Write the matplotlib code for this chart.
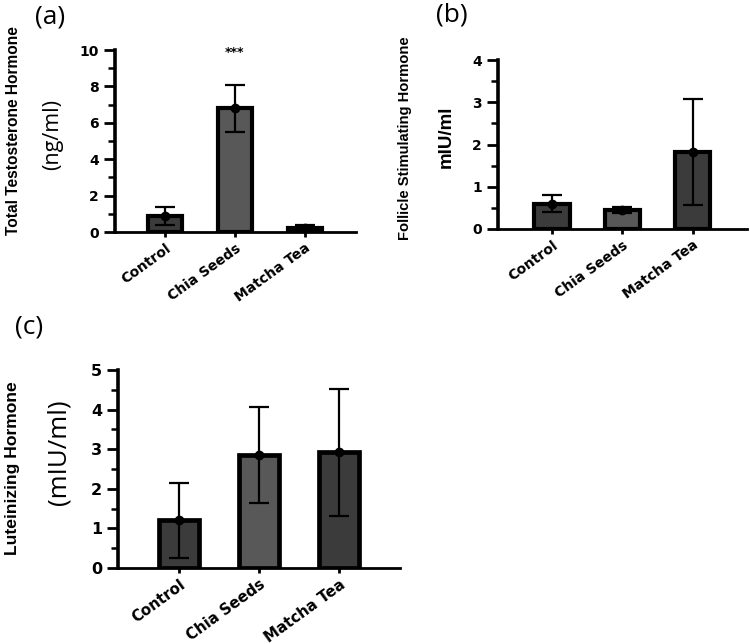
import matplotlib
matplotlib.use("Agg")
import matplotlib.pyplot as plt
from matplotlib.ticker import MultipleLocator

categories = ["Control", "Chia Seeds", "Matcha Tea"]

# (a) Total testosterone (ng/ml)
testo_mean = [0.9, 6.8, 0.2]
testo_err = [0.5, 1.3, 0.2]
# (b) FSH (mIU/ml)
fsh_mean = [0.6, 0.45, 1.82]
fsh_err = [0.2, 0.06, 1.25]
# (c) LH (mIU/ml)
lh_mean = [1.2, 2.85, 2.92]
lh_err = [0.95, 1.22, 1.6]

bar_colors = ["#3b3b3b", "#585858", "#3b3b3b"]

plt.rcParams['font.family'] = ['DejaVu Sans']

fig = plt.figure(figsize=(7.5, 6.44), dpi=100)
W, H = 750, 644

TICKFONT = ['DejaVu Sans']
LABELFONT = ['Liberation Sans Narrow', 'Liberation Sans', 'DejaVu Sans']
LIGHTFONT = ['Open Sans', 'DejaVu Sans']


def ax_at(l, r, t, b):
    return fig.add_axes([l / W, 1 - b / H, (r - l) / W, (b - t) / H])


def panel(ax, means, errs, ymax, major, minor, xlim, width, fs, yfs, lw):
    x = list(range(len(categories)))
    ax.bar(x, means, width=width, color=bar_colors, edgecolor="black",
           linewidth=lw, zorder=2)
    ax.errorbar(x, means, yerr=errs, fmt="o", color="black", ms=6,
                elinewidth=1.6, capsize=7, capthick=1.6, zorder=3)
    ax.set_xlim(*xlim)
    ax.set_ylim(0, ymax)
    ax.yaxis.set_major_locator(MultipleLocator(major))
    ax.yaxis.set_minor_locator(MultipleLocator(minor))
    ax.spines['top'].set_visible(False)
    ax.spines['right'].set_visible(False)
    ax.spines['left'].set_linewidth(2.6)
    ax.spines['bottom'].set_linewidth(2.0)
    ax.spines['left'].set_bounds(0, ymax)
    ax.tick_params(axis='y', which='major', length=8, width=2.0,
                   labelsize=yfs, pad=3.5)
    ax.tick_params(axis='y', which='minor', length=5, width=1.8)
    ax.tick_params(axis='x', length=3.5, width=2.0, labelsize=fs, pad=3)
    ax.set_xticks(x)
    ax.set_xticklabels(categories, rotation=36, ha='right',
                       rotation_mode='anchor', fontweight='bold',
                       family=TICKFONT)
    for lab in ax.get_yticklabels():
        lab.set_fontweight('bold')
        lab.set_family(TICKFONT)
    ax.set_facecolor('none')


# (a)
ax1 = ax_at(115, 356, 50, 232)
panel(ax1, testo_mean, testo_err, 10, 2, 1, (-0.714, 2.73), 0.49, 10, 10, 3.0)
ax1.text(1, 9.85, "***", ha='center', va='center', fontsize=9,
         fontweight='bold', family=TICKFONT)

# (b)
ax2 = ax_at(498, 747, 60, 229)
panel(ax2, fsh_mean, fsh_err, 4, 1, 0.5, (-0.766, 2.77), 0.5, 10, 10, 3.0)

# (c)
ax3 = ax_at(118, 400, 370, 568)
panel(ax3, lh_mean, lh_err, 5, 1, 0.5, (-0.76, 2.76), 0.5, 10.8, 11.5, 3.4)


def vtext(x, y, s, bold=True, size=12, family=LABELFONT):
    kw = dict(rotation=90, ha='center', va='center', fontsize=size,
              family=family)
    if bold:
        kw['fontweight'] = 'bold'
    fig.text(x / W, 1 - y / H, s, **kw)


vtext(14, 131, "Total Testosterone Hormone", size=11.2)
vtext(53, 135, "(ng/ml)", bold=False, size=15.5, family=LIGHTFONT)
vtext(405, 138, "Follicle Stimulating Hormone", size=10.6)
vtext(446, 137, "mIU/ml", size=13.5)
vtext(13, 468, "Luteinizing Hormone", size=12.6)
vtext(59, 452, "(mIU/ml)", bold=False, size=18.5, family=LIGHTFONT)

# panel letters
pl = dict(fontsize=19, ha='center', va='center', family=LIGHTFONT)
fig.text(50 / W, 1 - 17 / H, "(a)", **pl)
fig.text(452 / W, 1 - 15 / H, "(b)", **pl)
fig.text(29 / W, 1 - 327 / H, "(c)", **pl)

fig.savefig("out.png", dpi=100)
